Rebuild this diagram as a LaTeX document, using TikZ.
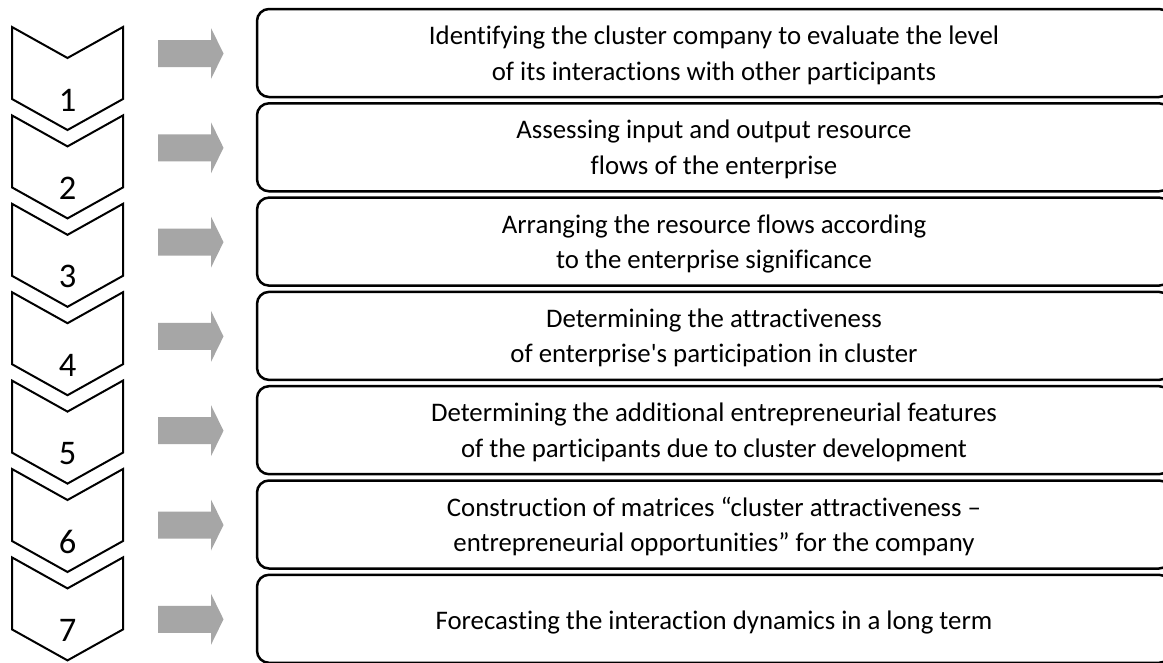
\documentclass[tikz,border=0pt]{standalone}
\usepackage{fontspec}
\setmainfont{Carlito}[Ligatures={NoCommon}]
\usetikzlibrary{calc}
\definecolor{arrowgray}{HTML}{A6A6A6}
\newcommand{\twolines}[2]{\begin{tabular}[t]{@{}c@{}}#1\\#2\end{tabular}}
\tikzset{
  stepchev/.style={draw=black, line width=2pt, line join=miter, fill=white},
  stepbox/.style={draw=black, line width=2.5pt, rounded corners=12pt,
    minimum width=914pt, minimum height=88pt, inner sep=0pt, fill=white},
  steptext/.style={anchor=base, inner sep=0pt, font=\fontsize{26.8}{35.5}\selectfont},
  stepnum/.style={anchor=base, inner sep=0pt, font=\fontsize{34.5}{40}\selectfont},
  flowarrow/.style={fill=arrowgray, draw=none},
}
\begin{document}
\begin{tikzpicture}[x=1pt, y=-1pt]
\useasboundingbox (0,0) rectangle (1163,662);
\clip (0,0) rectangle (1163,662);
\fill[white] (0,0) rectangle (1163,662);

% chevrons with numbers
\foreach \k in {1,...,7}{
  \pgfmathsetmacro{\yo}{27+88.4*(\k-1)}
  \draw[stepchev] (12,\yo) -- (67.5,\yo+31) -- (123,\yo) -- (123,\yo+72)
     -- (67.5,\yo+103) -- (12,\yo+72) -- cycle;
  \node[stepnum] (n\k) at (67.5,\yo+84) {\k};
}

% gray block arrows
\foreach \k in {1,...,7}{
  \pgfmathsetmacro{\cy}{53.5+94.3*(\k-1)}
  \fill[flowarrow] (158,\cy-13.5) -- (211,\cy-13.5) -- (211,\cy-25.5)
     -- (223.5,\cy) -- (211,\cy+25.5) -- (211,\cy+13.5) -- (158,\cy+13.5) -- cycle;
}

% boxes
\foreach \k in {1,...,7}{
  \pgfmathsetmacro{\ct}{53+94.3*(\k-1)}
  \node[stepbox] (b\k) at (714,\ct) {};
}

\node[steptext] (t1) at ($(b1.center)+(0,-8.5)$) {\twolines{Identifying the cluster company to evaluate the level}{of its interactions with other participants}};
\node[steptext] (t2) at ($(b2.center)+(0,-8.5)$) {\twolines{Assessing input and output resource}{flows of the enterprise}};
\node[steptext] (t3) at ($(b3.center)+(0,-8.5)$) {\twolines{Arranging the resource flows according}{to the enterprise significance}};
\node[steptext] (t4) at ($(b4.center)+(0,-8.5)$) {\twolines{Determining the attractiveness}{of enterprise\textquotesingle s participation in cluster}};
\node[steptext] (t5) at ($(b5.center)+(0,-8.5)$) {\twolines{Determining the additional entrepreneurial features}{of the participants due to cluster development}};
\node[steptext] (t6) at ($(b6.center)+(0,-8.5)$) {\twolines{Construction of matrices “cluster attractiveness –}{entrepreneurial opportunities” for the company}};
\node[steptext] (t7) at ($(b7.center)+(0,11)$) {Forecasting the interaction dynamics in a long term};
\end{tikzpicture}
\end{document}
